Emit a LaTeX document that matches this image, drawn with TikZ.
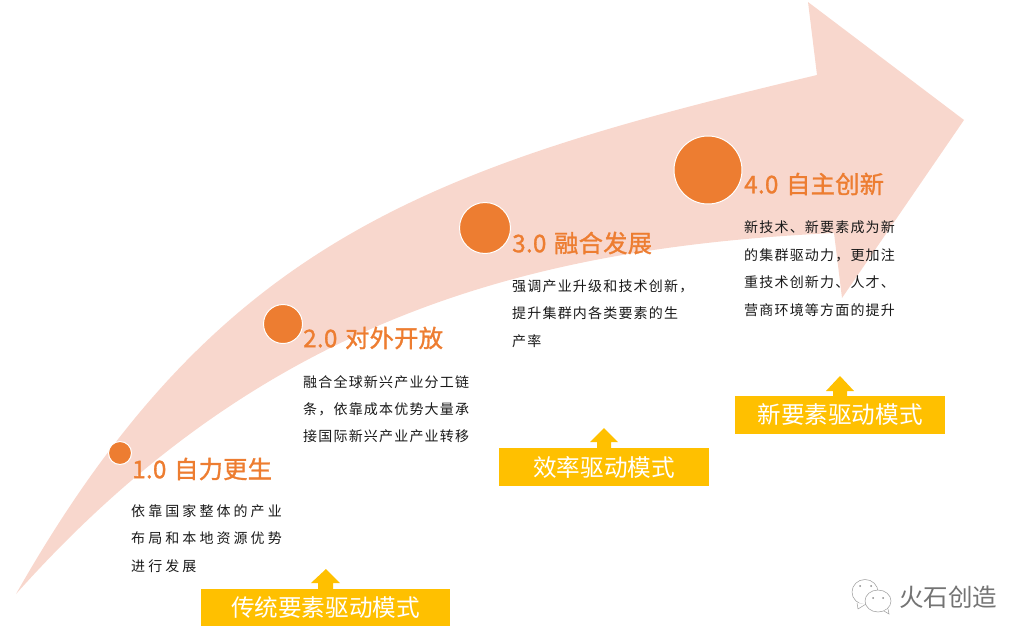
\documentclass[tikz,border=0pt]{standalone}
\usepackage{fontspec}
\setmainfont{Noto Sans CJK SC}
\newfontfamily\bodyfa[LetterSpace=22]{Noto Sans CJK SC}
\newfontfamily\bodyfb[LetterSpace=8.5]{Noto Sans CJK SC}
\newfontfamily\titlef[FakeBold=1.2,LetterSpace=1]{Noto Sans CJK SC}
\newfontfamily\wmfont{Noto Sans CJK SC}
\definecolor{orangeA}{HTML}{ED7D31}
\definecolor{pinkA}{HTML}{F8D7CD}
\definecolor{yellowA}{HTML}{FFC000}
\tikzset{
 dot/.style={circle,fill=orangeA,draw=white,line width=1pt,inner sep=0pt},
 title/.style={anchor=west,inner sep=0pt,text=orangeA,font=\fontsize{24.3}{28}\selectfont\titlef},
 bodytext/.style={anchor=west,inner sep=0pt,align=left,text=black!90},
 band/.style={fill=yellowA,draw=none,minimum height=38pt,inner sep=0pt,text=white,font=\fontsize{23.6}{28}\selectfont},
 uparrow/.style={fill=yellowA,draw=none},
 wm/.style={draw=black!40,line width=.5pt,fill=white}
}
\begin{document}
\begin{tikzpicture}[x=1pt,y=-1pt]
\useasboundingbox (0,0) rectangle (1031,643);
% big arrow
\fill[pinkA] (16,594) .. controls (217,240) and (429,167) .. (817,75)
  -- (808,2) -- (964,120) -- (842,298) -- (834,233)
  .. controls (520,248) and (258,323) .. (16,594) -- cycle;
% circles
\node[dot,minimum size=23pt] (c1) at (120,453) {};
\node[dot,minimum size=39pt] (c2) at (283,324) {};
\node[dot,minimum size=51pt] (c3) at (485,228) {};
\node[dot,minimum size=68pt] (c4) at (708,170) {};
% titles
\node[title] (t1) at (132,469) {1.0\hspace{2pt} 自力更生};
\node[title] (t2) at (303,338) {2.0\hspace{2pt} 对外开放};
\node[title] (t3) at (512,243) {3.0\hspace{2pt} 融合发展};
\node[title] (t4) at (744,184) {4.0\hspace{2pt} 自主创新};
% body
\node[bodytext,font=\fontsize{14}{27.5}\selectfont\bodyfa] (b1) at (131,538.5) {依靠国家整体的产业\\布局和本地资源优势\\进行发展};
\node[bodytext,font=\fontsize{14}{27}\selectfont\bodyfb] (b2) at (303,409) {融合全球新兴产业分工链\\条，依靠成本优势大量承\\接国际新兴产业产业转移};
\node[bodytext,font=\fontsize{14}{27.5}\selectfont\bodyfb] (b3) at (512,313.5) {强调产业升级和技术创新，\\提升集群内各类要素的生\\产率};
\node[bodytext,font=\fontsize{14}{27.5}\selectfont\bodyfb] (b4) at (744,268.5) {新技术、新要素成为新\\的集群驱动力，更加注\\重技术创新力、人才、\\营商环境等方面的提升};
% arrows + bands
\fill[uparrow] (326,569) -- (340,583) -- (333,583) -- (333,590) -- (318,590) -- (318,583) -- (311,583) -- cycle;
\fill[uparrow] (604,428) -- (618,442) -- (611,442) -- (611,449) -- (597,449) -- (597,442) -- (590,442) -- cycle;
\fill[uparrow] (840,376) -- (854,391) -- (847,391) -- (847,397) -- (833,397) -- (833,391) -- (826,391) -- cycle;
\node[band,minimum width=249pt,minimum height=37pt] (k1) at (325.5,607.5) {传统要素驱动模式};
\node[band,minimum width=210pt] (k2) at (604,467) {效率驱动模式};
\node[band,minimum width=210pt] (k3) at (840,415) {新要素驱动模式};
% watermark
\draw[wm] (865,592) ellipse (13pt and 12.5pt);
\draw[wm] (857,603) -- (858,609) -- (866,604);
\draw[wm] (878,601) ellipse (13pt and 11pt);
\draw[wm] (884,611) -- (889,614) -- (888,609);
\foreach \p in {(860,586),(871,586),(873,598),(883,598)} \fill[black!45] \p circle (1pt);
\node[inner sep=0pt,text=black!55,font=\fontsize{24.5}{28}\selectfont\wmfont] (w) at (948,597) {火石创造};
\end{tikzpicture}
\end{document}
